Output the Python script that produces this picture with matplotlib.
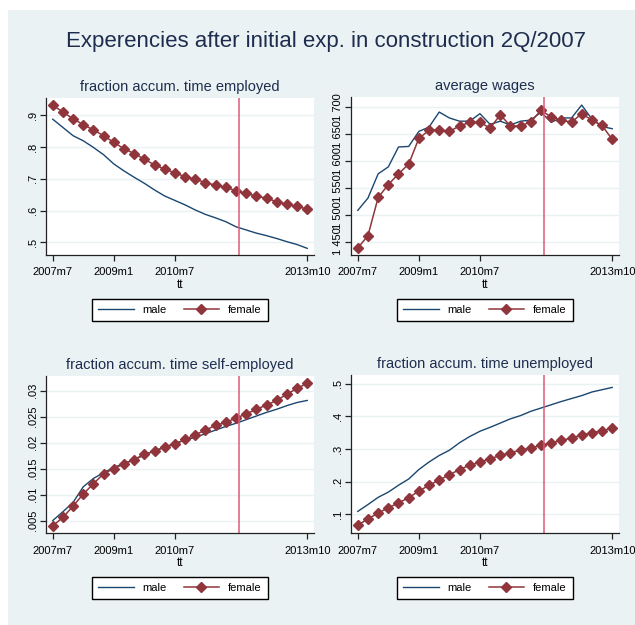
import matplotlib
matplotlib.use("Agg")
import matplotlib.pyplot as plt
from matplotlib.patches import Rectangle

plt.rcParams['font.family'] = ['Liberation Sans', 'DejaVu Sans']

# quarterly observations 2007m7 .. 2013m10 (months since 2007m7)
months = [3 * i for i in range(26)]
xticks = [0, 18, 36, 75]
xticklabels = ['2007m7', '2009m1', '2010m7', '2013m10']
vline_month = 55

emp_male = [.888, .862, .836, .820, .799, .776, .747, .725, .705, .686, .665, .646, .632,
            .618, .602, .588, .577, .565, .549, .539, .529, .521, .512, .502, .493, .481]
emp_female = [.932, .911, .889, .871, .854, .836, .815, .795, .780, .762, .744, .731, .719,
              .707, .699, .688, .680, .673, .663, .654, .646, .639, .628, .620, .613, .605]

wage_male = [1508, 1531, 1576, 1589, 1626, 1627, 1655, 1663, 1691, 1680, 1674, 1674, 1688,
             1668, 1674, 1667, 1674, 1676, 1691, 1672, 1680, 1680, 1704, 1678, 1664, 1660]
wage_female = [1438, 1461, 1532, 1556, 1576, 1594, 1642, 1657, 1658, 1655, 1665, 1672, 1672,
               1661, 1686, 1665, 1665, 1673, 1694, 1682, 1676, 1672, 1688, 1676, 1666, 1640]

self_male = [.0050, .0067, .0085, .0115, .0131, .0142, .0152, .0160, .0167, .0176, .0184, .0191, .0198,
             .0205, .0210, .0217, .0224, .0231, .0237, .0244, .0251, .0258, .0264, .0271, .0277, .0281]
self_female = [.0040, .0056, .0078, .0101, .0121, .0140, .0150, .0159, .0167, .0178, .0183, .0192, .0197,
               .0206, .0215, .0224, .0233, .0239, .0247, .0255, .0264, .0272, .0281, .0293, .0304, .0314]

unemp_male = [.109, .130, .152, .168, .189, .208, .237, .260, .280, .296, .319, .338, .354,
              .366, .379, .392, .402, .415, .425, .435, .445, .454, .463, .474, .481, .488]
unemp_female = [.067, .086, .104, .120, .135, .151, .171, .189, .205, .221, .237, .250, .260,
                .270, .280, .289, .296, .303, .311, .319, .326, .333, .343, .349, .356, .363]

W, H = 635, 625
BG = '#eaf2f3'
MALE = '#1a476f'
FEMALE = '#90353b'
TXT = '#1e2d4f'

fig = plt.figure(figsize=(W / 100, H / 100), dpi=100)
fig.patch.set_facecolor('white')
fig.patches.append(Rectangle((8 / W, 0), 1 - 8 / W, 1 - 10 / H, transform=fig.transFigure,
                             facecolor=BG, edgecolor='none', zorder=0))
fig.text(326 / W, 1 - 41 / H, 'Experencies after initial exp. in construction 2Q/2007',
         ha='center', va='center', fontsize=16, color=TXT)

# background for the right column, hides overflow of left panels' labels
bgax = fig.add_axes([325 / W, 0, 1 - 325 / W, 1 - 62 / H], zorder=0.5)
bgax.set_facecolor(BG)
bgax.set_axis_off()
bgax.add_patch(Rectangle((0, 0), 1, 1, transform=bgax.transAxes, facecolor=BG, edgecolor='none'))


def panel(rect, male, female, title, yticks, ylabels, ylim, legend_y):
    l, r, t, b = rect
    ax = fig.add_axes([l / W, 1 - b / H, (r - l) / W, (b - t) / H], zorder=1)
    ax.set_facecolor('white')
    ax.plot(months, male, color=MALE, lw=1.0)
    ax.plot(months, female, color=FEMALE, lw=1.1, marker='D', markersize=4.6)
    ax.axvline(vline_month, color='#de5a7a', lw=1.1)
    ax.set_xlim(-2, 77)
    ax.set_ylim(*ylim)
    ax.set_xticks(xticks)
    ax.set_xticklabels(xticklabels, fontsize=8)
    ax.set_yticks(yticks)
    ax.set_yticklabels(ylabels, fontsize=8, rotation=90, va='center')
    ax.grid(axis='y', color=BG, lw=1.0)
    ax.set_axisbelow(True)
    for s in ('top', 'right'):
        ax.spines[s].set_visible(False)
    for s in ('left', 'bottom'):
        ax.spines[s].set_color('#222222')
        ax.spines[s].set_linewidth(0.9)
    ax.tick_params(length=4, width=0.9, color='#222222', pad=2, labelcolor='black')
    ax.tick_params(axis='x', pad=5)
    ax.set_xlabel('tt', fontsize=8.5, labelpad=1)
    ax.set_title(title, fontsize=10.5, color=TXT, pad=5)
    ax.legend(['male', 'female'], ncol=2, loc='center',
              bbox_to_anchor=((l + r) / 2 / W, 1 - legend_y / H), bbox_transform=fig.transFigure,
              fancybox=False, edgecolor='black', framealpha=1, fontsize=8,
              handlelength=3.2, handletextpad=0.8, columnspacing=1.5, borderpad=0.55,
              borderaxespad=0)
    return ax


panel((46, 314, 98, 255), emp_male, emp_female, 'fraction accum. time employed',
      [.5, .6, .7, .8, .9], ['.5', '.6', '.7', '.8', '.9'], (.46, .955), 310)
panel((351, 619, 97, 255), wage_male, wage_female, 'average wages',
      [1450, 1500, 1550, 1600, 1650, 1700],
      ['1 450', '1 500', '1 550', '1 600', '1 650', '1 700'], (1425, 1719), 310)
panel((46, 314, 376, 533), self_male, self_female, 'fraction accum. time self-employed',
      [.005, .01, .015, .02, .025, .03], ['.005', '.01', '.015', '.02', '.025', '.03'],
      (.0026, .0328), 588)
panel((351, 619, 375, 533), unemp_male, unemp_female, 'fraction accum. time unemployed',
      [.1, .2, .3, .4, .5], ['.1', '.2', '.3', '.4', '.5'], (.043, .526), 588)

fig.savefig('out.png', dpi=100, facecolor=fig.get_facecolor())
